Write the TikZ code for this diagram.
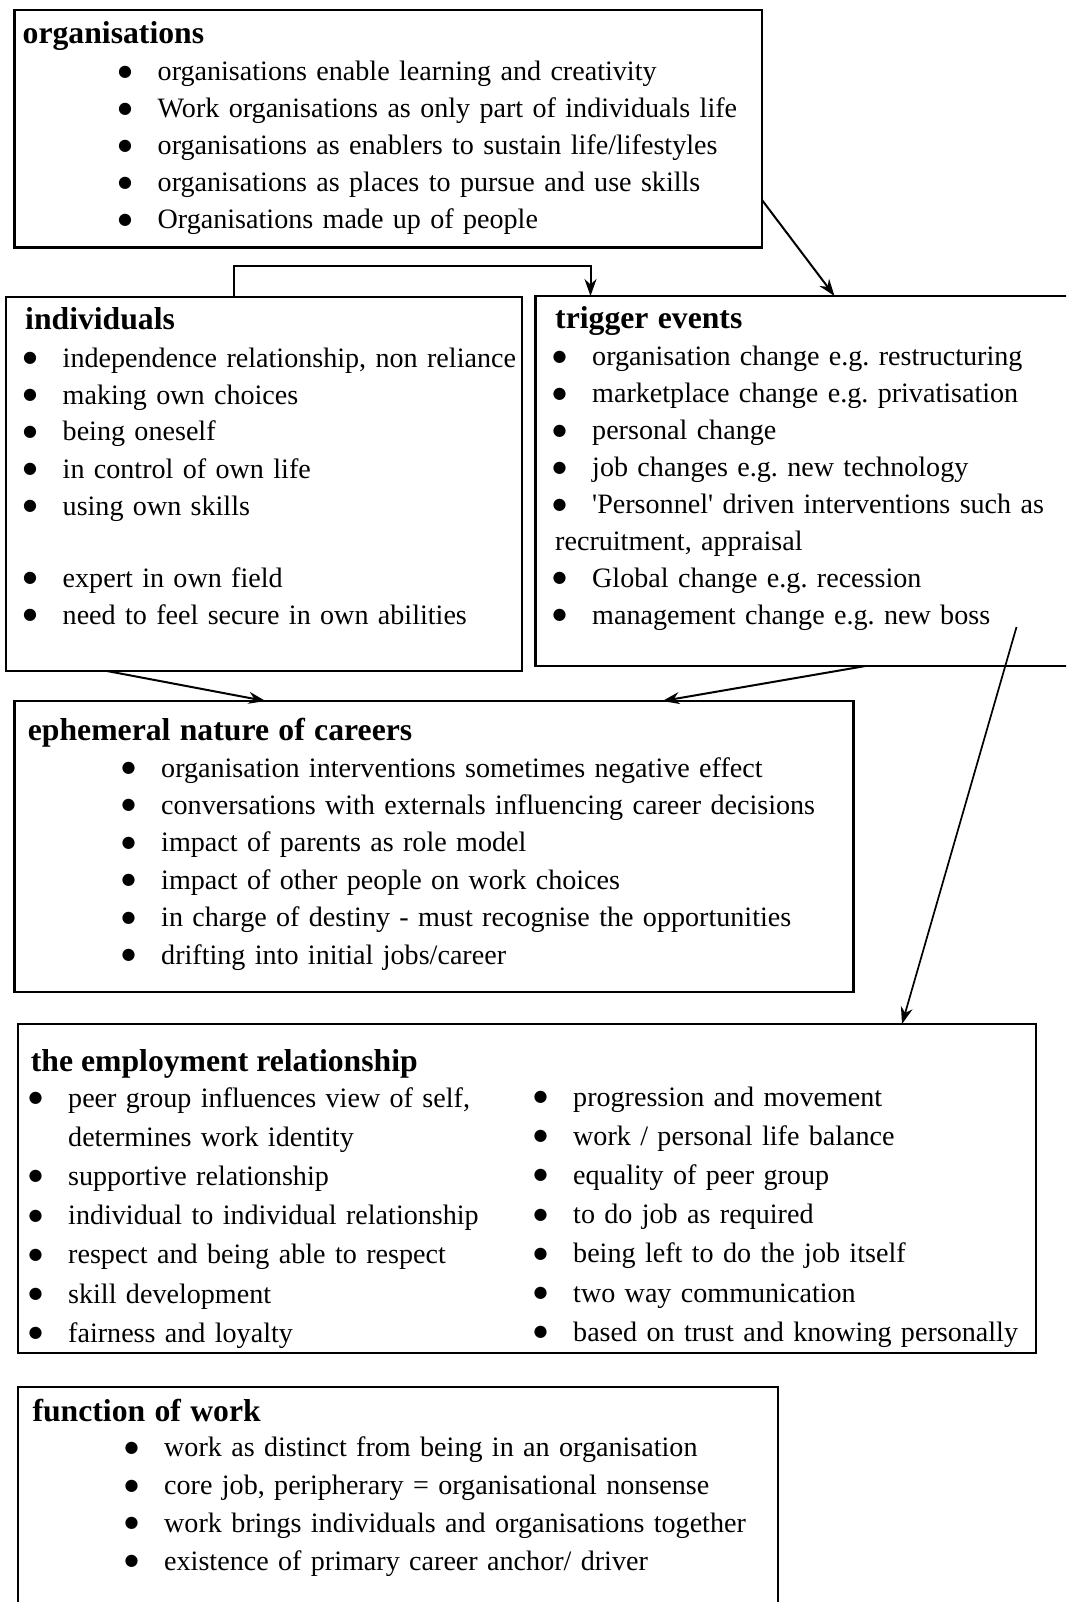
\documentclass[tikz,border=0pt]{standalone}
\usepackage{fontspec}
\setmainfont{Liberation Serif}
\newfontfamily\dotfont{DejaVu Sans}
\usetikzlibrary{arrows.meta,calc}
\frenchspacing

\newcommand{\boxhead}[1]{{\fontsize{31.7}{37}\selectfont\bfseries #1}}
\newcommand{\bitem}[2]{\hspace*{#1}\makebox[36pt][l]{\hspace{-3.5pt}\raisebox{4.5pt}{\dotfont\fontsize{16}{16}\selectfont ●}}#2}

\tikzset{
  box/.style={draw, line width=2.2pt, inner sep=0pt, outer sep=0pt, anchor=north west},
  body/.style={anchor=base west, inner sep=0pt, text width=1000pt, align=left},
  arr/.style={-{Stealth[length=17pt,width=12pt]}, line width=2pt}
}

\begin{document}
\begin{tikzpicture}[x=1pt,y=1pt,yscale=-1,xscale=1]
\path [use as bounding box] (0,0) rectangle (1066,1602);
\fill [white] (0,0) rectangle (1066,1602);
\clip (0,0) rectangle (1066,1602);

%Shape: Rectangle
\node (org) [box, minimum width=747.5pt, minimum height=237.5pt] at (14.5,10) {};
%Shape: Rectangle
\node (indiv) [box, minimum width=516pt, minimum height=374pt] at (6,297) {};
%Shape: Rectangle
\node (trig) [box, minimum width=560pt, minimum height=370pt] at (535.5,296) {};
%Shape: Rectangle
\node (eph) [box, minimum width=839pt, minimum height=291pt] at (14.5,701) {};
%Shape: Rectangle
\node (emp) [box, minimum width=1018pt, minimum height=329pt] at (18,1024) {};
%Shape: Rectangle
\node (func) [box, minimum width=760pt, minimum height=260pt] at (18,1387) {};

% Text Node
\node (orgtxt) [body, font=\fontsize{28.1}{37}\selectfont] at (22.5,44) {\boxhead{organisations}\\
\bitem{99pt}{organisations enable learning and creativity}\\
\bitem{99pt}{Work organisations as only part of individuals life}\\
\bitem{99pt}{organisations as enablers to sustain life/lifestyles}\\
\bitem{99pt}{organisations as places to pursue and use skills}\\
\bitem{99pt}{Organisations made up of people}};

% Text Node
\node (indivtxt) [body, font=\fontsize{28.1}{37}\selectfont] at (25,330) {\boxhead{individuals}\\
\bitem{1.5pt}{independence relationship, non reliance}\\
\bitem{1.5pt}{making own choices}\\
\bitem{1.5pt}{being oneself}\\
\bitem{1.5pt}{in control of own life}\\
\bitem{1.5pt}{using own skills}\\[35pt]
\bitem{1.5pt}{expert in own field}\\
\bitem{1.5pt}{need to feel secure in own abilities}};

% Text Node
\node (trigtxt) [body, font=\fontsize{28.1}{36.9}\selectfont] at (555,328) {\boxhead{trigger events}\\[1pt]
\bitem{1pt}{organisation change e.g. restructuring}\\
\bitem{1pt}{marketplace change e.g. privatisation}\\
\bitem{1pt}{personal change}\\
\bitem{1pt}{job changes e.g. new technology}\\
\bitem{1pt}{\textquotesingle Personnel\textquotesingle\ driven interventions such as}\\
recruitment, appraisal\\
\bitem{1pt}{Global change e.g. recession}\\
\bitem{1pt}{management change e.g. new boss}};

% Text Node
\node (ephtxt) [body, font=\fontsize{28.1}{37.4}\selectfont] at (27.7,740) {\boxhead{ephemeral nature of careers}\\[-0.4pt]
\bitem{97.3pt}{organisation interventions sometimes negative effect}\\
\bitem{97.3pt}{conversations with externals influencing career decisions}\\
\bitem{97.3pt}{impact of parents as role model}\\
\bitem{97.3pt}{impact of other people on work choices}\\
\bitem{97.3pt}{in charge of destiny - must recognise the opportunities}\\
\bitem{97.3pt}{drifting into initial jobs/career}};

% Text Node
\node (emphead) [anchor=base west, inner sep=0pt] at (30.7,1071) {\boxhead{the employment relationship}};
% Text Node
\node (empleft) [body, font=\fontsize{28.1}{39.2}\selectfont] at (32,1107) {\bitem{0pt}{peer group influences view of self,}\\
\hspace*{36pt}determines work identity\\
\bitem{0pt}{supportive relationship}\\
\bitem{0pt}{individual to individual relationship}\\
\bitem{0pt}{respect and being able to respect}\\
\bitem{0pt}{skill development}\\
\bitem{0pt}{fairness and loyalty}};
% Text Node
\node (empright) [body, font=\fontsize{28.1}{39.2}\selectfont] at (537,1106) {\bitem{0pt}{progression and movement}\\
\bitem{0pt}{work / personal life balance}\\
\bitem{0pt}{equality of peer group}\\
\bitem{0pt}{to do job as required}\\
\bitem{0pt}{being left to do the job itself}\\
\bitem{0pt}{two way communication}\\
\bitem{0pt}{based on trust and knowing personally}};

% Text Node
\node (functxt) [body, font=\fontsize{28.1}{37.7}\selectfont] at (32.3,1421) {\boxhead{function of work}\\[-1.8pt]
\bitem{95.7pt}{work as distinct from being in an organisation}\\
\bitem{95.7pt}{core job, peripherary = organisational nonsense}\\
\bitem{95.7pt}{work brings individuals and organisations together}\\
\bitem{95.7pt}{existence of primary career anchor/ driver}};

%Elbow Connector
\draw [arr] ($(indiv.north west)+(228,0)$) -- ++(0,-31) -| ($(trig.north west)+(55,0)$);
%Straight Lines
\draw [arr] ($(org.north east)+(0,190)$) -- ($(trig.north west)+(299,0)$);
%Straight Lines
\draw [arr] ($(indiv.south west)+(101,0)$) -- ($(eph.north west)+(251,0)$);
%Straight Lines
\draw [arr] ($(trig.south west)+(330,0)$) -- ($(eph.north west)+(648,0)$);
%Straight Lines
\coordinate (bossend) at ($(trig.south west)+(481,-39)$);
\draw [arr, line width=1.7pt] (bossend) -- ($(emp.north west)+(884,0)$);

\end{tikzpicture}
\end{document}
